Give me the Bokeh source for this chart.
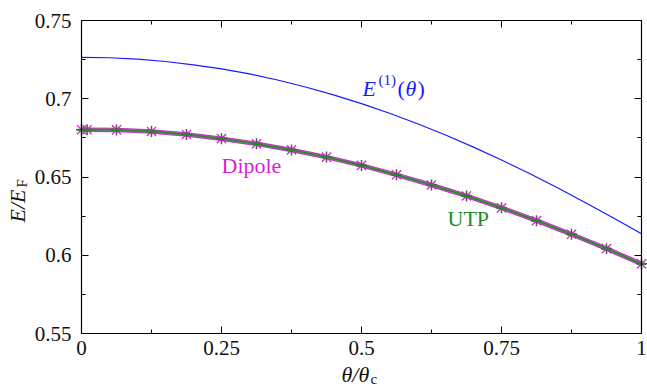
import math
from bokeh.plotting import figure
from bokeh.models import Range1d, FixedTicker, LinearAxis, Label, CustomJSTickFormatter
from bokeh.embed import file_html
from bokeh.resources import INLINE

# ---- data ----
theta_curve = [0.0, 0.05, 0.1, 0.15, 0.2, 0.25, 0.3, 0.35, 0.4, 0.45, 0.5,
               0.55, 0.6, 0.65, 0.7, 0.75, 0.8, 0.85, 0.9, 0.95, 1.0]
e1_energy = [0.7265, 0.7262, 0.7253, 0.7238, 0.7217, 0.7191, 0.7159, 0.7120,
             0.7075, 0.7025, 0.6969, 0.6907, 0.6840, 0.6768, 0.6691, 0.6609,
             0.6522, 0.6431, 0.6336, 0.6238, 0.6137]

theta_points = [0.0, 0.01, 0.0625, 0.125, 0.1875, 0.25, 0.3125, 0.375, 0.4375,
                0.5, 0.5625, 0.625, 0.6875, 0.75, 0.8125, 0.875, 0.9375, 1.0]
utp_energy = [0.6802, 0.6802, 0.6801, 0.6791, 0.6772, 0.6745, 0.6712, 0.6673,
              0.6627, 0.6574, 0.6514, 0.6449, 0.6379, 0.6303, 0.6221, 0.6134,
              0.6042, 0.5945]
dipole_energy = [0.6802, 0.6802, 0.6801, 0.6791, 0.6772, 0.6745, 0.6712, 0.6673,
                 0.6627, 0.6574, 0.6514, 0.6449, 0.6379, 0.6303, 0.6221, 0.6134,
                 0.6042, 0.5945]

x_ticks = [0, 0.25, 0.5, 0.75, 1]
x_minor = [0.125, 0.375, 0.625, 0.875]
y_ticks = [0.55, 0.6, 0.65, 0.7, 0.75]
y_minor = [0.575, 0.625, 0.675, 0.725]

FONT = "Liberation Serif"
BLUE = "#1a1aff"
MAGENTA = "#d81ed8"
GREEN = "#1e8c1e"
GRAY = "#7a7a7a"
INK = "#111111"

W, H = 647, 388
L, R, T, B = 81, 6, 20, 55          # plot box inside the canvas
x0, x1 = x_ticks[0], x_ticks[-1]
y0, y1 = y_ticks[0], y_ticks[-1]
fw, fh = W - L - R, H - T - B
sx = (x1 - x0) / fw
sy = (y1 - y0) / fh
SHIFT = 7   # label baseline correction (px)


def dx(cx):
    return x0 + (cx - L) * sx


def dy(cy):
    return y0 + (H - B - cy) * sy


p = figure(width=W, height=H,
           x_range=Range1d(dx(0), dx(W)), y_range=Range1d(dy(H), dy(0)),
           output_backend="svg", toolbar_location=None,
           x_axis_location=None, y_axis_location=None,
           min_border=0, min_border_left=0, min_border_right=0,
           min_border_top=0, min_border_bottom=0)
p.xgrid.visible = False
p.ygrid.visible = False
p.background_fill_color = "white"
p.border_fill_color = "white"
p.outline_line_color = None

fmt = CustomJSTickFormatter(code="return String(tick);")
empty = CustomJSTickFormatter(code="return '';")


def make_axis(loc, bounds, ticks, minor, labels):
    ax = LinearAxis(fixed_location=loc, bounds=bounds)
    ax.ticker = FixedTicker(ticks=ticks, minor_ticks=minor)
    ax.axis_line_color = "black"
    ax.axis_line_width = 1.2
    ax.major_tick_in = 7
    ax.major_tick_out = 0
    ax.minor_tick_in = 4
    ax.minor_tick_out = 0
    ax.major_tick_line_color = "black"
    ax.minor_tick_line_color = "black"
    if labels:
        ax.formatter = fmt
        ax.major_label_text_font = FONT
        ax.major_label_text_font_size = "21px"
        ax.major_label_text_color = INK
    else:
        ax.formatter = empty
        ax.major_label_text_font_size = "0px"
        ax.major_label_standoff = 0
    return ax


bottom = make_axis(y0, (x0, x1), x_ticks, x_minor, True)
bottom.major_label_standoff = 7
p.add_layout(bottom, "below")
left = make_axis(x0, (y0, y1), y_ticks, y_minor, True)
left.major_label_standoff = 10
p.add_layout(left, "left")
p.add_layout(make_axis(y1, (x0, x1), x_ticks, x_minor, False), "above")
p.add_layout(make_axis(x1, (y0, y1), y_ticks, y_minor, False), "right")

# curves
p.line(theta_curve, e1_energy, line_color=BLUE, line_width=1.2)
p.line(theta_points, dipole_energy, line_color=MAGENTA, line_width=4.5)
p.line(theta_points, utp_energy, line_color=GRAY, line_width=3)
p.line(theta_points, utp_energy, line_color=GREEN, line_width=1.2)

# markers
p.scatter(theta_points, dipole_energy, marker="x", size=13, line_color=MAGENTA, line_width=1.3)
p.scatter(theta_points, utp_energy, marker="cross", size=11, line_color="#555555", line_width=1.5)
p.scatter(theta_points, utp_energy, marker="dash", size=9, line_color=GREEN, line_width=2.2)


def lab(text, cx, cy, size, color=INK, style_="normal", angle=0.0):
    if angle:
        cx -= SHIFT
    else:
        cy -= SHIFT
    p.add_layout(Label(x=dx(cx), y=dy(cy), text=text, text_font=FONT,
                       text_font_size=f"{size}px", text_color=color,
                       text_font_style=style_, angle=angle,
                       text_align="left", text_baseline="alphabetic"))


# curve labels
lab("Dipole", 221, 172, 22, MAGENTA)
lab("UTP", 447, 225, 22, GREEN)
lab("E", 362, 95, 22, BLUE, "italic")
lab("(1)", 378, 86, 15, BLUE)
lab("(", 397, 95, 22, BLUE)
lab("θ", 405, 95, 22, BLUE, "italic")
lab(")", 417, 95, 22, BLUE)

# x axis label
lab("θ/θ", 341, 381, 22, INK, "italic")
lab("c", 370, 385, 15, INK)

# y axis label (rotated)
lab("E/E", 24, 222, 22, INK, "italic", angle=math.pi / 2)
lab("F", 28, 187, 15, INK, angle=math.pi / 2)

open("out.html", "w").write(file_html(p, INLINE))
